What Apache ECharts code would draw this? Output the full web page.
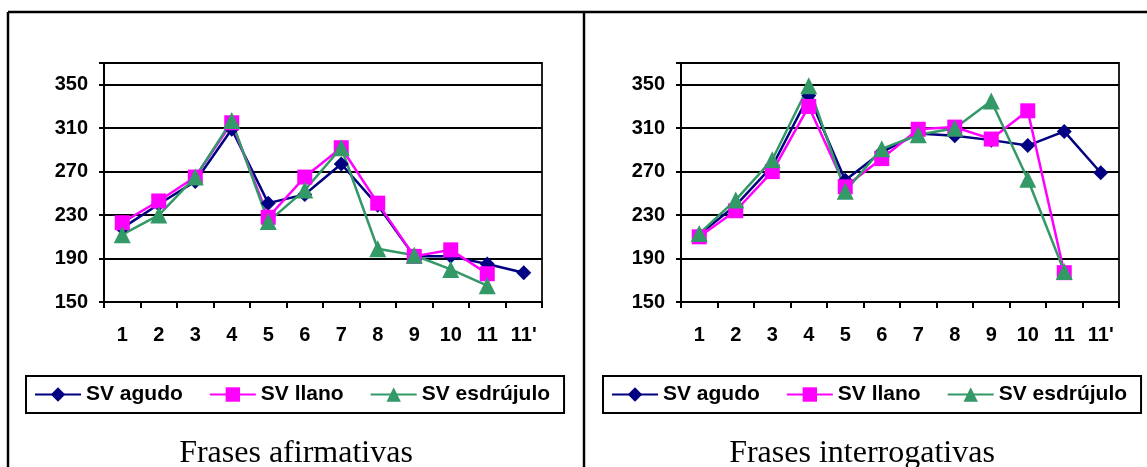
<!DOCTYPE html>
<html>
<head>
<meta charset="utf-8">
<script src="https://cdn.jsdelivr.net/npm/echarts@6/dist/echarts.min.js"></script>
<style>
html,body{margin:0;padding:0;background:#fff;}
#c{width:1147px;height:467px;}
</style>
</head>
<body>
<div id="c"></div>
<script>
const categories = ['1','2','3','4','5','6','7','8','9','10','11',"11'"];
const seriesNames = ['SV agudo','SV llano','SV esdrújulo'];

const afirmAgudo = [218, 240, 261, 309, 241, 249, 277, 239, 192, 192, 185, 177];
const afirmLlano = [223, 243, 265, 315, 228, 265, 292, 241, 192, 198, 176, null];
const afirmEsdr  = [212, 230, 265, 317, 224, 253, 292, 199, 193, 180, 165, null];

const interAgudo = [212, 239, 275, 340, 262, 288, 305, 303, 299, 294, 307, 269];
const interLlano = [210, 234, 270, 330, 256, 282, 309, 311, 300, 326, 177, null];
const interEsdr  = [213, 244, 281, 349, 252, 291, 304, 310, 335, 263, 178, null];

const titles = ['Frases afirmativas', 'Frases interrogativas'];

const colors = ['#000080', '#FF00FF', '#339966'];
const symbols = ['diamond', 'rect', 'triangle'];
const symbolSizes = [15, 15, 17];

const FONT = '"Liberation Sans", Arial, sans-serif';

const chart = echarts.init(document.getElementById('c'));

function makeXAxis(gi) {
  return {
    type: 'category', gridIndex: gi, data: categories, boundaryGap: true,
    axisLine: {show: true, lineStyle: {color: '#000', width: 2}},
    axisTick: {show: true, alignWithLabel: false, length: 6, lineStyle: {color: '#000', width: 2}},
    axisLabel: {color: '#000', fontFamily: FONT, fontWeight: 'bold', fontSize: 20, margin: 23, interval: 0},
    splitLine: {show: false}
  };
}
function makeYAxis(gi) {
  return {
    type: 'value', gridIndex: gi, min: 150, max: 370, interval: 40,
    axisLine: {show: true, lineStyle: {color: '#000', width: 2}},
    axisTick: {show: true, length: 5, lineStyle: {color: '#000', width: 2}},
    axisLabel: {color: '#000', fontFamily: FONT, fontWeight: 'bold', fontSize: 20, margin: 16,
      formatter: v => (v === 370 ? '' : String(v))},
    splitLine: {show: true, lineStyle: {color: '#000', width: 2}}
  };
}

const datasets = [[afirmAgudo, afirmLlano, afirmEsdr], [interAgudo, interLlano, interEsdr]];
const series = [];
datasets.forEach((group, gi) => {
  group.forEach((vals, si) => {
    series.push({
      name: seriesNames[si], type: 'line', xAxisIndex: gi, yAxisIndex: gi,
      data: vals, symbol: symbols[si], symbolSize: symbolSizes[si],
      showAllSymbol: true, connectNulls: false, animation: false,
      lineStyle: {color: colors[si], width: 2.5},
      itemStyle: {color: colors[si], borderWidth: 0},
      emphasis: {disabled: true}
    });
  });
});

function makeLegend(left) {
  return {
    left: left, top: 376, orient: 'horizontal',
    data: seriesNames,
    itemWidth: 46, itemHeight: 18, itemGap: 26,
    padding: [8, 14, 8, 8],
    borderColor: '#000', borderWidth: 2,
    textStyle: {color: '#000', fontFamily: FONT, fontWeight: 'bold', fontSize: 21},
    selectedMode: false
  };
}

chart.setOption({
  backgroundColor: '#fff',
  animation: false,
  title: [
    {text: titles[0], left: 291, top: 433, textAlign: 'center',
     textStyle: {fontFamily: '"Liberation Serif", "Times New Roman", serif', fontWeight: 'normal', fontSize: 32, color: '#000'}},
    {text: titles[1], left: 857, top: 433, textAlign: 'center',
     textStyle: {fontFamily: '"Liberation Serif", "Times New Roman", serif', fontWeight: 'normal', fontSize: 32, color: '#000'}}
  ],
  legend: [makeLegend(26), makeLegend(603)],
  grid: [
    {left: 104, top: 63, width: 438, height: 239, show: true, borderColor: '#222', borderWidth: 2, backgroundColor: 'transparent'},
    {left: 681, top: 63, width: 438, height: 239, show: true, borderColor: '#222', borderWidth: 2, backgroundColor: 'transparent'}
  ],
  xAxis: [makeXAxis(0), makeXAxis(1)],
  yAxis: [makeYAxis(0), makeYAxis(1)],
  series: series,
  graphic: [
    {type: 'line', shape: {x1: 8, y1: 12, x2: 1147, y2: 12}, style: {stroke: '#000', lineWidth: 2.5}, silent: true},
    {type: 'line', shape: {x1: 8, y1: 12, x2: 8, y2: 467}, style: {stroke: '#000', lineWidth: 2.5}, silent: true},
    {type: 'line', shape: {x1: 584, y1: 12, x2: 584, y2: 467}, style: {stroke: '#000', lineWidth: 2.5}, silent: true}
  ]
});
</script>
</body>
</html>
